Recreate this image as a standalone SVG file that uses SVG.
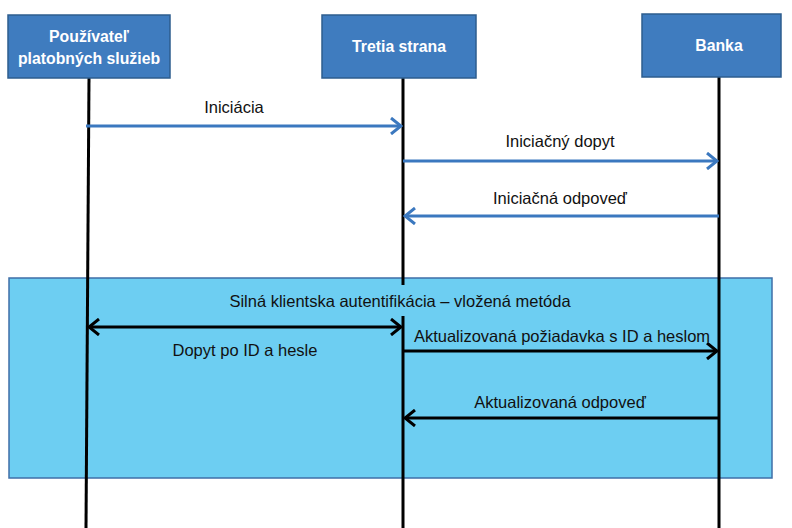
<svg xmlns="http://www.w3.org/2000/svg" width="792" height="528" viewBox="0 0 792 528">
<defs>
<style>
.actor{fill:#3f7cbf;stroke:#2e5d8e;stroke-width:1.5}
.atext{font-family:"Liberation Sans",Arial,sans-serif;font-size:15.8px;font-weight:bold;fill:#ffffff;text-anchor:middle}
.life{stroke:#000;stroke-width:3;fill:none}
.msg{stroke:#3b78bf;stroke-width:3;fill:none}
.msgk{stroke:#000;stroke-width:3;fill:none}
.lbl{font-family:"Liberation Sans",Arial,sans-serif;font-size:16.5px;fill:#111;text-anchor:middle}
</style>
<marker id="ab" markerUnits="userSpaceOnUse" markerWidth="14" markerHeight="18" refX="12" refY="9" orient="auto-start-reverse">
<path d="M2,1 L12,9 L2,17" fill="none" stroke="#3b78bf" stroke-width="3"/>
</marker>
<marker id="ak" markerUnits="userSpaceOnUse" markerWidth="14" markerHeight="18" refX="12" refY="9" orient="auto-start-reverse">
<path d="M2,1 L12,9 L2,17" fill="none" stroke="#000" stroke-width="3"/>
</marker>
</defs>
<rect width="792" height="528" fill="#ffffff"/>
<g id="sca-frame">
<rect x="9" y="278" width="763" height="200" fill="#6dcef2" stroke="#3f6fa8" stroke-width="1.5"/>
</g>
<g id="lifelines">
<line class="life" x1="89" y1="78" x2="86" y2="528"/>
<line class="life" x1="403" y1="78" x2="403" y2="528"/>
<line class="life" x1="719" y1="77" x2="719" y2="528"/>
</g>
<g id="sca-label">
<rect x="222" y="285" width="360" height="31" fill="#6dcef2"/>
<text class="lbl" x="400" y="307">Silná klientska autentifikácia – vložená metóda</text>
</g>
<g id="user">
<rect class="actor" x="8" y="15" width="162" height="63"/>
<text class="atext" x="89" y="42">Používateľ</text>
<text class="atext" x="89" y="64">platobných služieb</text>
</g>
<g id="third-party">
<rect class="actor" x="322" y="15" width="154" height="63"/>
<text class="atext" x="399" y="52">Tretia strana</text>
</g>
<g id="bank">
<rect class="actor" x="642" y="14" width="139" height="63"/>
<text class="atext" x="719" y="51">Banka</text>
</g>
<g id="connectors">
<line class="msg" x1="86" y1="126" x2="401" y2="126" marker-end="url(#ab)"/>
<line class="msg" x1="403" y1="161" x2="717" y2="161" marker-end="url(#ab)"/>
<line class="msg" x1="719" y1="216" x2="405" y2="216" marker-end="url(#ab)"/>
<line class="msgk" x1="89" y1="327" x2="401" y2="327" marker-start="url(#ak)" marker-end="url(#ak)"/>
<line class="msgk" x1="403" y1="351" x2="717" y2="351" marker-end="url(#ak)"/>
<line class="msgk" x1="719" y1="418" x2="405" y2="418" marker-end="url(#ak)"/>
</g>
<g id="labels">
<text class="lbl" x="234" y="113">Iniciácia</text>
<text class="lbl" x="560" y="147">Iniciačný dopyt</text>
<text class="lbl" x="560" y="204">Iniciačná odpoveď</text>
<text class="lbl" x="245" y="356">Dopyt po ID a hesle</text>
<text class="lbl" x="562" y="342">Aktualizovaná požiadavka s ID a heslom</text>
<text class="lbl" x="560" y="408">Aktualizovaná odpoveď</text>
</g>
</svg>
